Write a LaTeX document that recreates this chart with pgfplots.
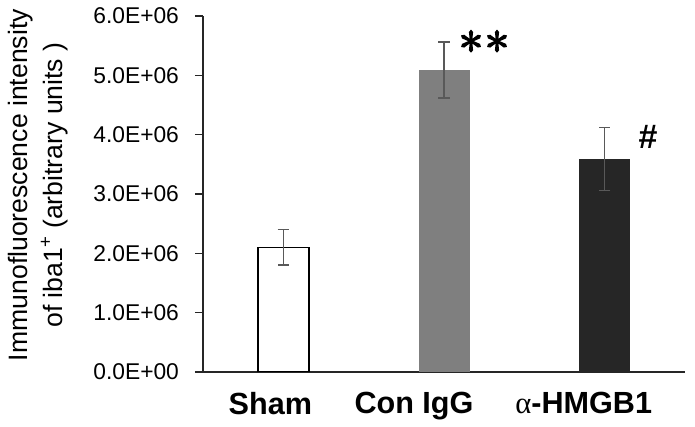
\documentclass[border=0pt]{standalone}
\usepackage{pgfplots}
\pgfplotsset{compat=1.18}
\usepackage{fontspec}
\setmainfont{Liberation Sans}
\newfontfamily\greekfont{Liberation Serif}
\newfontfamily\starfont[FakeBold=2.5]{Latin Modern Math}

\definecolor{errgray}{HTML}{595959}
\definecolor{midgray}{HTML}{7F7F7F}
\definecolor{darkbar}{HTML}{262626}

\begin{document}
\begin{tikzpicture}
\begin{axis}[
    scale only axis,
    width=241pt, height=178pt,
    xmin=-0.5, xmax=2.5,
    ymin=0, ymax=6e6,
    enlargelimits=false,
    axis x line=bottom, axis y line=left,
    axis line style={-, line width=0.6pt, color=black!85},
    xtick={0,1,2},
    xticklabels={\kern-13pt Sham, \kern-30pt Con IgG, \kern-21pt{\greekfont\mdseries α}-HMGB1},
    x tick style={draw=none},
    ytick={0,1e6,2e6,3e6,4e6,5e6,6e6},
    yticklabels={0.0E+00,1.0E+06,2.0E+06,3.0E+06,4.0E+06,5.0E+06,6.0E+06},
    scaled y ticks=false,
    tick align=outside,
    major tick length=4pt,
    y tick style={line width=0.6pt, color=black!85},
    yticklabel style={font=\fontsize{11.4}{13}\selectfont, xshift=-4.5pt},
    xticklabel style={font=\bfseries\fontsize{15.3}{18}\selectfont, yshift=-2.5pt},
    ylabel={Immunofluorescence intensity\\of iba1\textsuperscript{+} (arbitrary units )},
    ylabel style={align=center, font=\fontsize{13.3}{17.5}\selectfont,
        at={(axis description cs:-0.343,0.525)}, anchor=center, rotate=0},
    ybar, bar width=25.5pt,
    error bars/y dir=both, error bars/y explicit,
    error bars/error bar style={line width=0.7pt, color=errgray},
    error bars/error mark options={rotate=90, mark size=2.8pt, line width=0.7pt, color=errgray},
]
% Sham
\addplot[bar shift=0pt, fill=white, draw=black, line width=0.8pt]
    coordinates {(0,2.1e6) +- (0,0.3e6)};
% Con IgG
\addplot[bar shift=0pt, fill=midgray, draw=none]
    coordinates {(1,5.09e6) +- (0,0.47e6)};
% alpha-HMGB1
\addplot[bar shift=0pt, fill=darkbar, draw=none]
    coordinates {(2,3.59e6) +- (0,0.53e6)};

\node[font=\starfont\fontsize{25}{25}\selectfont] at (axis cs:1.249,5.56e6) {∗\kern0.5pt∗};
\node[font=\bfseries\fontsize{17}{18}\selectfont] at (axis cs:2.27,3.97e6) {\#};
\end{axis}
\path ([shift={(-101.5pt,-27.5pt)}]current axis.south west)
    rectangle ([shift={(5pt,8pt)}]current axis.north east);
\end{tikzpicture}
\end{document}
